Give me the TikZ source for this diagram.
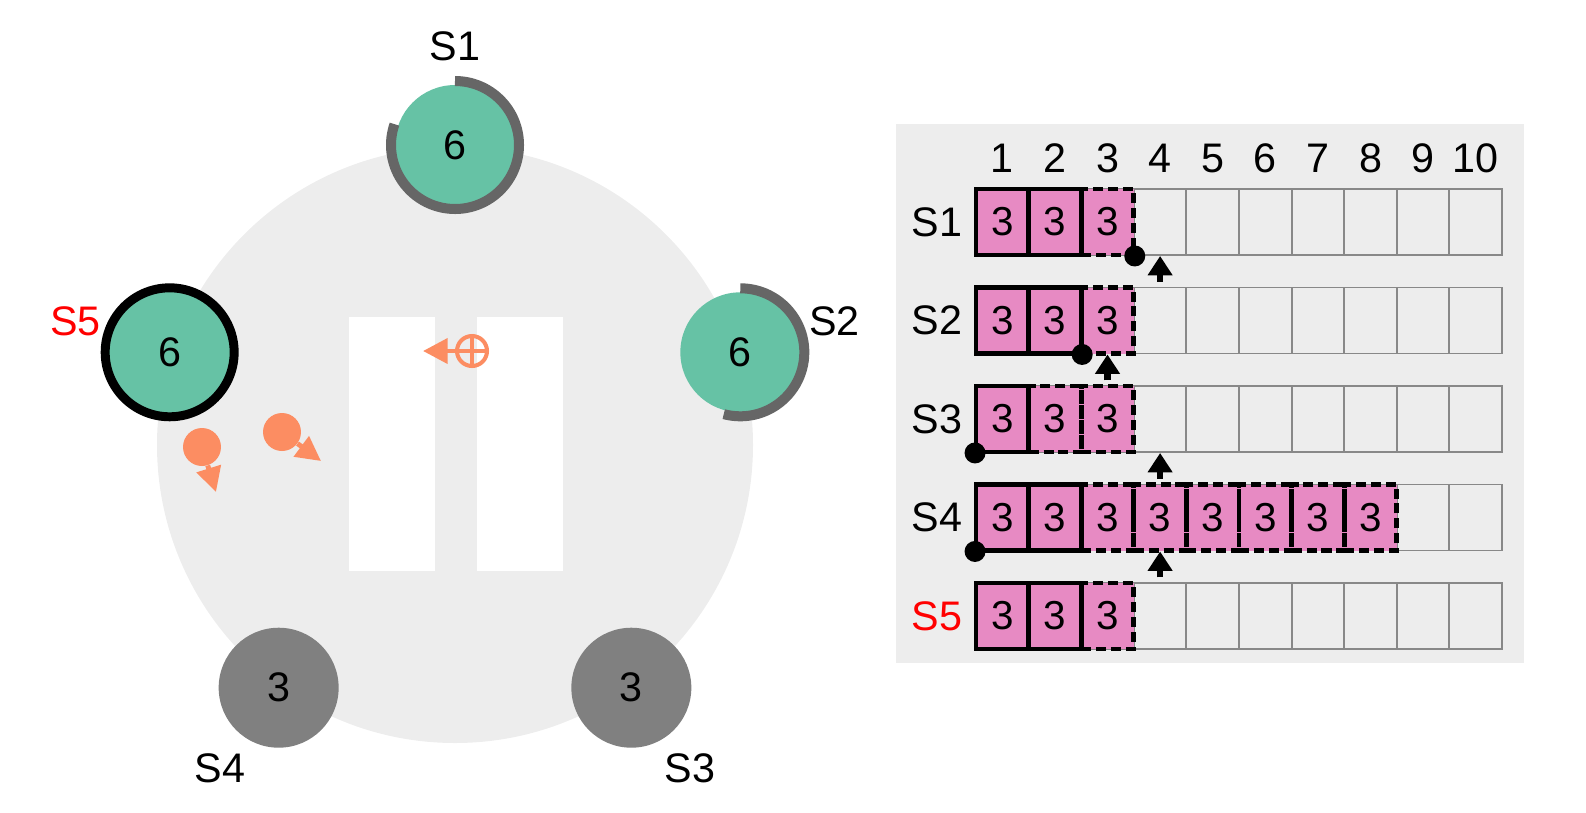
\documentclass[tikz,border=0pt]{standalone}
\usepackage{fontspec}
\setmainfont{Liberation Sans}
\usetikzlibrary{arrows.meta,calc}
\definecolor{nodeteal}{HTML}{66C2A5}
\definecolor{msgorange}{HTML}{FC8D62}
\definecolor{logpink}{HTML}{E78AC3}
\definecolor{ringgray}{HTML}{666666}
\definecolor{offgray}{HTML}{808080}
\definecolor{cellgray}{HTML}{888888}
\definecolor{bggray}{HTML}{EDEDED}
\begin{document}
\begin{tikzpicture}[x=0.02cm, y=0.02cm,
        server/.style={circle, minimum size=2.4cm, inner sep=0pt, font=\fontsize{23.5}{26}\selectfont},
        alive/.style={server, fill=nodeteal},
        offline/.style={server, fill=offgray},
        leader/.style={alive, draw=black, line width=5.1pt, minimum size=2.58cm},
        timeout/.style={ringgray, line width=5.7pt},
        srvlabel/.style={font=\fontsize{23.5}{26}\selectfont, inner sep=0pt},
        msgdot/.style={circle, fill=msgorange, minimum size=0.76cm, inner sep=0pt},
        msg/.style={msgorange, line width=2.8pt, -{Triangle[length=14pt, width=14pt]}},
        logcell/.style={draw=cellgray, line width=1.1pt, minimum width=1.052cm, minimum height=1.32cm, inner sep=0pt},
        logfill/.style={logcell, fill=logpink, draw=none, font=\fontsize{23}{26}\selectfont},
        logsolid/.style={logcell, draw=black, line width=2.8pt},
        logdashed/.style={logsolid, dash pattern=on 5.7pt off 2.8pt},
        ptrdot/.style={circle, fill=black, minimum size=0.42cm, inner sep=0pt},
        nextup/.style={black, line width=3.6pt, -{Triangle[length=11pt, width=13.5pt]}}]
    \useasboundingbox (0,0) rectangle (1586,-812);

    % cluster
    \coordinate (ring) at (455,-445);
    \fill[bggray] (ring) circle[radius=298];
    \fill[white] (349,-317) rectangle (435,-571);
    \fill[white] (477,-317) rectangle (563,-571);

    \node[alive] (s1) at ($(ring)+(90:300)$) {6};
    \node[alive] (s2) at ($(ring)+(18:300)$) {6};
    \node[offline] (s3) at ($(ring)+(306:300)$) {3};
    \node[offline] (s4) at ($(ring)+(234:300)$) {3};
    \node[leader] (s5) at ($(ring)+(162:300)$) {6};

    \node[srvlabel] (l1) at ($(s1)+(90:99)$) {S1};
    \node[srvlabel] (l2) at ($(s2)+(18:99)$) {S2};
    \node[srvlabel] (l3) at ($(s3)+(306:100)$) {S3};
    \node[srvlabel] (l4) at ($(s4)+(234:100)$) {S4};
    \node[srvlabel, text=red] (l5) at ($(s5)+(162:99)$) {S5};

    \draw[timeout] ($(s1)+(90:64)$) arc[start angle=90, end angle=-199, radius=64];
    \draw[timeout] ($(s2)+(90:64)$) arc[start angle=90, end angle=-105, radius=64];

    % messages
    \node[msgdot] (m1) at (202,-447) {};
    \node[msgdot] (m2) at (282,-432) {};
    \coordinate (m1t) at (216,-492);
    \coordinate (m2t) at (321,-461);
    \draw[msg] (m1) -- (m1t);
    \draw[msg] (m2) -- (m2t);
    \node[circle, draw=msgorange, line width=2.3pt, minimum size=0.6cm, inner sep=0pt] (v1) at (472,-351) {};
    \draw[msgorange, line width=1.8pt] (v1.north) -- (v1.south) (v1.west) -- (v1.east);
    \coordinate (v1t) at (423,-351);
    \draw[msg] (v1) -- (v1t);

    % logs
    \fill[bggray] (896,-124) rectangle (1524,-663);
    \foreach \k in {1,...,10}
        \node[srvlabel] (n\k) at ({1002.3+(\k-1)*52.6},-158) {\k};
    \foreach \r/\col in {1/black,2/black,3/black,4/black,5/red} {
        \node[srvlabel, text=\col] (r\r) at (937,{-222-(\r-1)*98.5}) {S\r};
        \foreach \k in {1,...,10}
            \node[logcell] (c\r-\k) at ({1002.3+(\k-1)*52.6},{-222-(\r-1)*98.5}) {};
    }
    \foreach \r/\k in {1/1,1/2,1/3,2/1,2/2,2/3,3/1,3/2,3/3,4/1,4/2,4/3,4/4,4/5,4/6,4/7,4/8,5/1,5/2,5/3}
        \node[logfill] at (c\r-\k) {3};
    \foreach \r/\k in {1/3,2/3,3/2,3/3,4/3,4/4,4/5,4/6,4/7,4/8,5/3}
        \node[logdashed] at (c\r-\k) {};
    \foreach \r/\k in {1/1,1/2,2/1,2/2,3/1,4/1,4/2,5/1,5/2}
        \node[logsolid] at (c\r-\k) {};

    \node[ptrdot] (p1) at (c1-3.south east) {};
    \node[ptrdot] (p2) at (c2-2.south east) {};
    \node[ptrdot] (p3) at (c3-1.south west) {};
    \node[ptrdot] (p4) at (c4-1.south west) {};

    \foreach \c [count=\i] in {c1-4,c2-3,c3-4,c4-4} {
        \coordinate (tail\i) at ($(\c.south)+(0,-26)$);
        \draw[nextup] (tail\i) -- (\c.south);
    }
\end{tikzpicture}
\end{document}
